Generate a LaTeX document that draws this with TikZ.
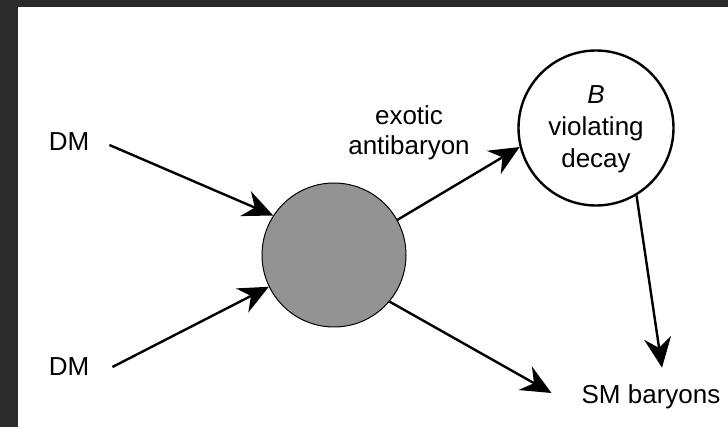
\documentclass[tikz,border=0pt]{standalone}
\usepackage{fontspec}
\setmainfont{Liberation Sans}
\usetikzlibrary{arrows.meta,calc}
\definecolor{bgdark}{HTML}{2B2B2B}
\definecolor{blobgray}{HTML}{939393}
\begin{document}
\begin{tikzpicture}[x=1pt,y=-1pt,
  lbl/.style={inner sep=0pt,font=\fontsize{26}{30}\selectfont,text=black},
  arr/.style={line width=2.4pt,-{Stealth[length=30pt,width=27pt,inset=10pt]}},
  blob/.style={circle,draw=black,line width=1pt,fill=blobgray,minimum size=144pt,inner sep=0pt},
  decaycirc/.style={circle,draw=black,line width=2.4pt,fill=white,minimum size=155pt,inner sep=0pt}]
\useasboundingbox (0,0) rectangle (728,427);
\fill[bgdark] (0,0) rectangle (728,427);
\fill[white] (18,7) rectangle (728,427);
% nodes
\node[lbl] (dm1) at (69,142) {DM};
\node[lbl] (dm2) at (69,367) {DM};
\node[blob] (g) at (334,255) {};
\node[decaycirc] (b) at (596,128) {};
\node[lbl,align=center,font=\fontsize{26}{32}\selectfont] (btxt) at (596,129) {\textit{B}\\violating\\decay};
\node[lbl,align=center] (exo) at (409,133) {exotic\\antibaryon};
\node[lbl] (sm) at (651,397) {SM baryons};
% connectors
\draw[arr] ($(dm1.east)+(20,3)$) -- (g.147);
\draw[arr] ($(dm2.east)+(23,0)$) -- (g.206);
\draw[arr] (g.29) -- (b.194);
\draw[arr] (g.-40) -- ($(sm.west)+(-30,-4)$);
\draw[arr] (b.-59) -- ($(sm.north)+(11,-17)$);
\end{tikzpicture}
\end{document}
